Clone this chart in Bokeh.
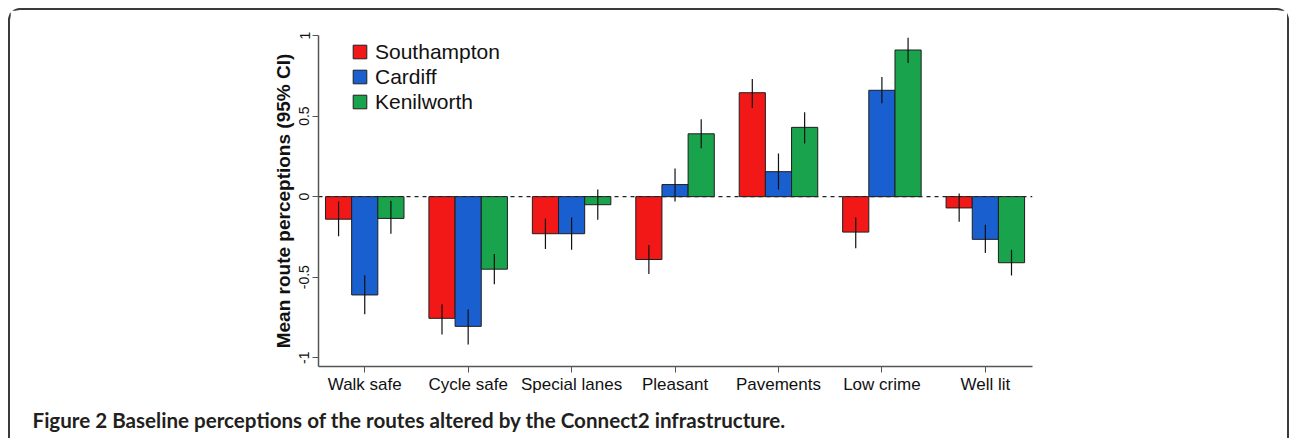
from bokeh.plotting import figure
from bokeh.models import (ColumnDataSource, Range1d, FixedTicker, Span, Legend,
                          LegendItem, Title)
from bokeh.embed import file_html
from bokeh.resources import INLINE

categories = ["Walk safe", "Cycle safe", "Special lanes", "Pleasant", "Pavements", "Low crime", "Well lit"]
cities = ["Southampton", "Cardiff", "Kenilworth"]

southampton = [-0.14, -0.755, -0.23, -0.39, 0.645, -0.22, -0.07]
southampton_lo = [-0.245, -0.855, -0.325, -0.48, 0.55, -0.32, -0.156]
southampton_hi = [-0.03, -0.667, -0.137, -0.30, 0.73, -0.13, 0.02]

cardiff = [-0.61, -0.805, -0.23, 0.075, 0.155, 0.66, -0.265]
cardiff_lo = [-0.73, -0.917, -0.33, -0.03, 0.044, 0.58, -0.35]
cardiff_hi = [-0.487, -0.70, -0.13, 0.175, 0.268, 0.742, -0.175]

kenilworth = [-0.135, -0.45, -0.05, 0.39, 0.43, 0.91, -0.41]
kenilworth_lo = [-0.23, -0.543, -0.143, 0.30, 0.33, 0.83, -0.49]
kenilworth_hi = [-0.025, -0.356, 0.044, 0.48, 0.524, 0.986, -0.33]

y_ticks = [-1, -0.5, 0, 0.5, 1]
y_tick_labels = ["-1", "-0.5", "0", "0.5", "1"]

caption = "Figure 2 Baseline perceptions of the routes altered by the Connect2 infrastructure."

colors = ["#F21818", "#1A5FCF", "#1AA34D"]
series = [(southampton, southampton_lo, southampton_hi),
          (cardiff, cardiff_lo, cardiff_hi),
          (kenilworth, kenilworth_lo, kenilworth_hi)]

bar_w = 0.253
offsets = [-bar_w, 0.0, bar_w]
xpos = list(range(1, len(categories) + 1))

p = figure(width=1281, height=430, output_backend="svg", toolbar_location=None,
           x_range=Range1d(0.553, 7.456), y_range=Range1d(-1.054, 1.0),
           min_border_left=308, min_border_right=259, min_border_top=25, min_border_bottom=74,
           background_fill_color="white", border_fill_color="white")
p.styles = {"margin": "8px 0 0 8px", "border": "2px solid #3a3a3a", "border-bottom": "none",
            "border-radius": "12px 12px 0 0", "box-sizing": "border-box"}
p.outline_line_color = None
p.grid.visible = False

zero = Span(location=0, dimension="width", line_color="#222222", line_width=1.2,
            line_dash="4 4", level="underlay")
p.add_layout(zero)

items = []
for (vals, lo, hi), off, col, name in zip(series, offsets, colors, cities):
    src = ColumnDataSource(dict(x=[x + off for x in xpos], top=vals, lo=lo, hi=hi))
    r = p.vbar(x="x", top="top", bottom=0, width=bar_w, source=src,
               fill_color=col, line_color="#1e1e1e", line_width=1)
    p.segment(x0="x", x1="x", y0="lo", y1="hi", source=src, line_color="#111111", line_width=1.2)
    items.append(LegendItem(label=name, renderers=[r]))

legend = Legend(items=items, location=(33, 252), padding=0, margin=0, spacing=0,
                border_line_color=None, background_fill_alpha=0,
                glyph_width=17, glyph_height=17, label_height=25, label_standoff=7,
                label_text_font="Liberation Sans", label_text_font_size="21px",
                label_text_color="#111111")
p.add_layout(legend)

xa = p.xaxis[0]
xa.ticker = FixedTicker(ticks=xpos)
xa.major_label_overrides = {x: c for x, c in zip(xpos, categories)}
xa.minor_tick_line_color = None
xa.major_tick_out = 6
xa.major_tick_in = 0
xa.major_label_standoff = 2
xa.major_label_text_font = "Liberation Sans"
xa.major_label_text_font_size = "17px"
xa.major_label_text_color = "#111111"
xa.axis_line_color = "#555555"
xa.axis_line_width = 1.5
xa.major_tick_line_color = "#555555"

ya = p.yaxis[0]
ya.ticker = FixedTicker(ticks=y_ticks)
ya.major_label_overrides = {t: s for t, s in zip(y_ticks, y_tick_labels)}
ya.minor_tick_line_color = None
ya.major_tick_out = 6
ya.major_tick_in = 0
ya.major_label_standoff = 3
ya.major_label_orientation = "vertical"
ya.major_label_text_font = "Liberation Sans"
ya.major_label_text_font_size = "14px"
ya.major_label_text_color = "#111111"
ya.axis_line_color = "#555555"
ya.axis_line_width = 1.5
ya.major_tick_line_color = "#555555"
ya.axis_label = "Mean route perceptions (95% CI)"
ya.axis_label_text_font = "Liberation Sans"
ya.axis_label_text_font_style = "bold"
ya.axis_label_text_font_size = "19px"
ya.axis_label_text_color = "#111111"
ya.axis_label_standoff = 3

cap = Title(text=caption, align="left", offset=-286, standoff=18,
            text_font="Lato", text_font_style="bold", text_font_size="20.6px",
            text_color="#231f20")
p.add_layout(cap, "below")

open("out.html", "w").write(file_html(p, INLINE))
